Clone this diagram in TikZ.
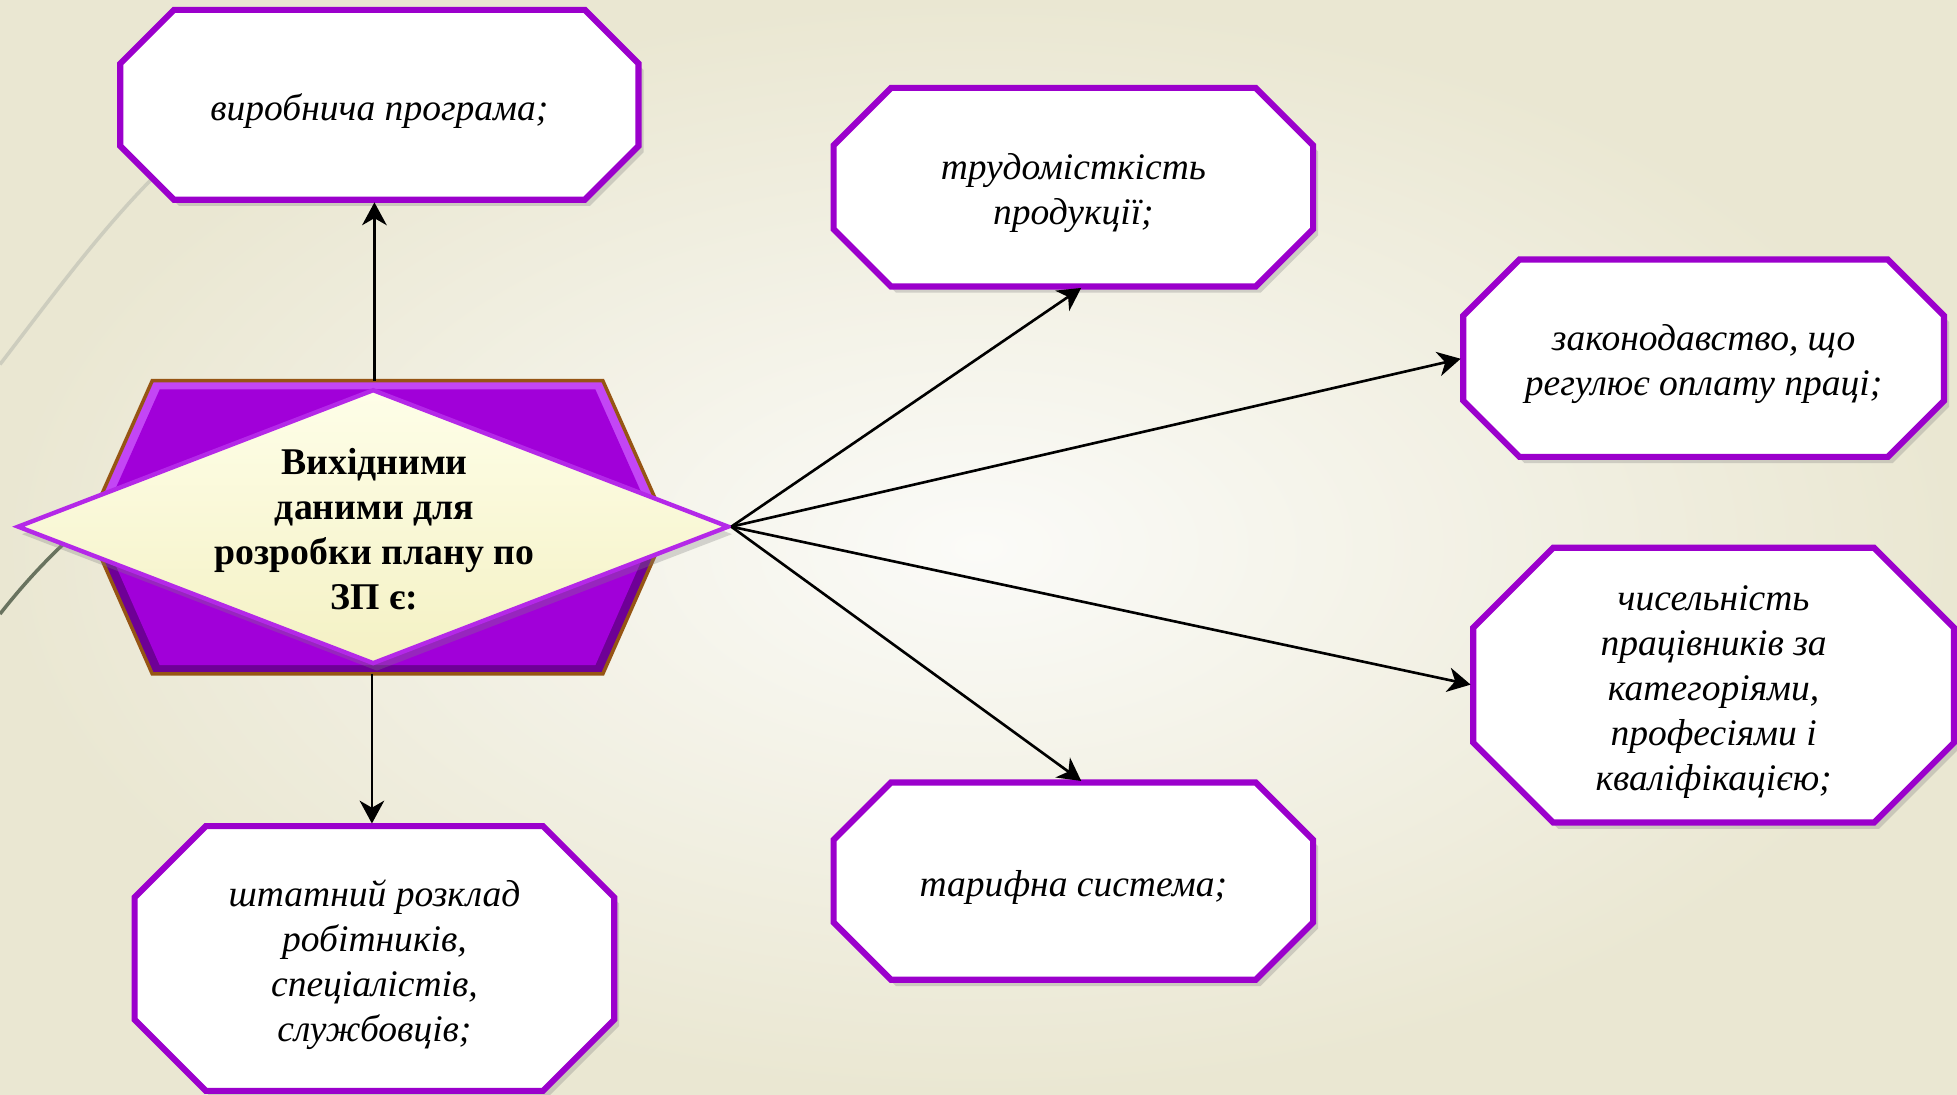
\documentclass[tikz,border=0pt]{standalone}
\usepackage{fontspec}
\setmainfont{Liberation Serif}
\usetikzlibrary{shapes.geometric,shadows,arrows.meta}
\definecolor{boxpurple}{RGB}{155,0,204}
\definecolor{hexpurple}{RGB}{161,0,217}
\definecolor{hexlight}{RGB}{195,70,245}
\definecolor{hexdark}{RGB}{110,0,150}
\definecolor{hexrim}{RGB}{150,85,20}
\definecolor{diatop}{RGB}{254,254,232}
\definecolor{diabot}{RGB}{244,241,196}
\definecolor{diarim}{RGB}{180,40,232}
\definecolor{bgout}{RGB}{234,231,210}
\definecolor{bgin}{RGB}{251,251,248}
\definecolor{arcgrey}{RGB}{205,205,190}
\definecolor{arcdark}{RGB}{105,115,95}
\pgfdeclarelayer{backdrop}
\pgfdeclarelayer{frames}
\pgfsetlayers{backdrop,frames,main}
\newcommand\boxtext[1]{\raisebox{-0.05cm}[\height][\depth]{\begin{tabular}{@{}c@{}}#1\end{tabular}}}
\newcommand\octframe[2]{%
  \filldraw[octline] ([xshift=#2]#1.north west) -- ([xshift=-#2]#1.north east)
    -- ([yshift=-#2]#1.north east) -- ([yshift=#2]#1.south east)
    -- ([xshift=-#2]#1.south east) -- ([xshift=#2]#1.south west)
    -- ([yshift=#2]#1.south west) -- ([yshift=-#2]#1.north west) -- cycle;}

\begin{document}
\begin{tikzpicture}[x=0.01cm,y=-0.01cm,
  octbox/.style={rectangle, inner sep=0pt, outer sep=0pt, align=center,
    font=\fontsize{8.55}{10.24}\selectfont\itshape},
  octline/.style={draw=boxpurple, line width=1.4pt, fill=white,
    drop shadow={shadow xshift=0.4mm, shadow yshift=-0.5mm, opacity=0.3}},
  link/.style={line width=0.6pt, shorten >=0.6pt, -{Stealth[length=5.2pt,width=5.6pt,inset=1.6pt]}}]
  \useasboundingbox (0,0) rectangle (1568,877);
  \begin{pgfonlayer}{backdrop}
    \shade[inner color=bgin, outer color=bgout] (0,0) rectangle (1568,877);
    \draw[arcgrey, line width=0.8pt] (0,292) .. controls (40,240) and (80,185) .. (125,140);
    \draw[arcdark, line width=0.8pt] (0,492) .. controls (25,460) and (50,435) .. (80,410);
  \end{pgfonlayer}

  \node[octbox, minimum width=4.15cm, minimum height=1.52cm] (prog) at (304,84) {\boxtext{виробнича програма;}};
  \node[octbox, minimum width=3.84cm, minimum height=1.59cm] (labour) at (860,150) {\boxtext{трудомісткість\\продукції;}};
  \node[octbox, minimum width=3.85cm, minimum height=1.58cm] (law) at (1365,287) {\boxtext{законодавство, що\\регулює оплату праці;}};
  \node[octbox, minimum width=3.85cm, minimum height=2.20cm] (headcount) at (1373,549) {\boxtext{чисельність\\працівників за\\категоріями,\\професіями і\\кваліфікацією;}};
  \node[octbox, minimum width=3.84cm, minimum height=1.58cm] (tariff) at (860,706) {\boxtext{тарифна система;}};
  \node[octbox, minimum width=3.84cm, minimum height=2.12cm] (staff) at (300,768) {\boxtext{штатний розклад\\робітників,\\спеціалістів,\\службовців;}};
  \begin{pgfonlayer}{frames}
    \foreach \b/\c in {prog/0.43cm, labour/0.46cm, law/0.45cm, headcount/0.64cm, tariff/0.46cm, staff/0.57cm}
      \octframe{\b}{\c};
  \end{pgfonlayer}

  \coordinate (hextop) at (300,305);
  \coordinate (hexbot) at (298,540);
  \fill[hexlight] (122,305) -- (483,305) -- (535,422) -- (483,540) -- (122,540) -- (70,422) -- cycle;
  \fill[hexdark] (70,422) -- (535,422) -- (483,540) -- (122,540) -- cycle;
  \fill[hexpurple] (128,312) -- (477,312) -- (526,422) -- (477,533) -- (128,533) -- (79,422) -- cycle;
  \draw[hexrim, line width=0.8pt] (122,305) -- (483,305) -- (535,422) -- (483,540) -- (122,540) -- (70,422) -- cycle;

  \node[diamond, minimum width=5.7cm, minimum height=2.2cm, inner sep=0pt, draw=diarim, line width=1pt,
    top color=diatop, bottom color=diabot,
    drop shadow={shadow xshift=0.3mm, shadow yshift=-0.6mm, opacity=0.3}] (core) at (299,422) {};
  \node[font=\fontsize{8.6}{10.24}\selectfont\bfseries, align=center] (coretext) at (300,424) {Вихідними\\даними для\\розробки плану по\\ЗП є:};

  \draw[link] (hextop) -- (hextop |- prog.south);
  \draw[link] (hexbot) -- (hexbot |- staff.north);
  \draw[link] (core.east) -- ([xshift=0.08cm]labour.south);
  \draw[link] (core.east) -- (law.west);
  \draw[link] (core.east) -- (headcount.west);
  \draw[link] (core.east) -- ([xshift=0.08cm]tariff.north);
\end{tikzpicture}
\end{document}
